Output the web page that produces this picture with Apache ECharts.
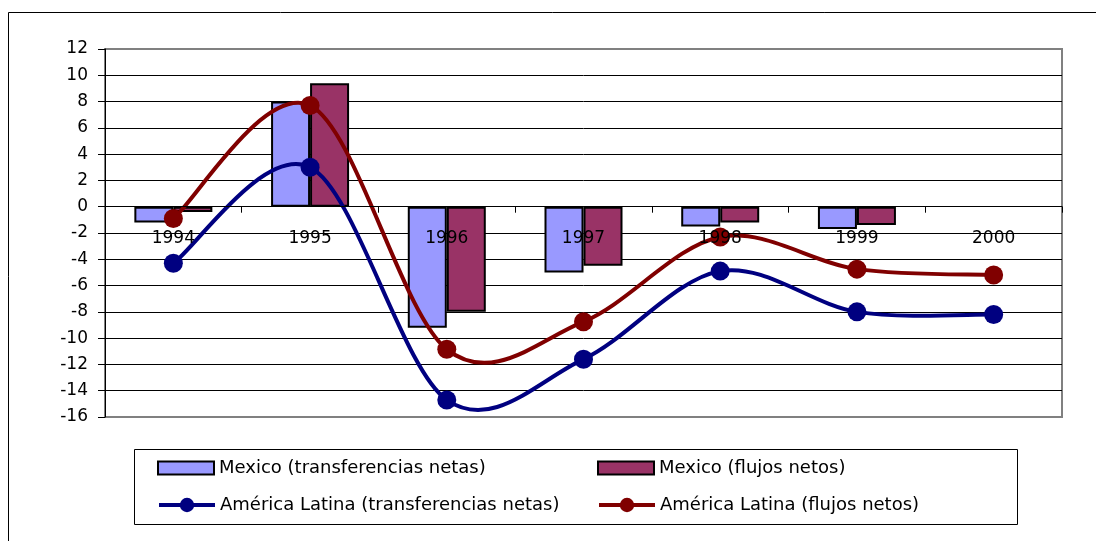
<!DOCTYPE html>
<html>
<head>
<meta charset="utf-8">
<title>Transferencias y flujos netos</title>
<script src="https://cdn.jsdelivr.net/npm/echarts@6/dist/echarts.min.js"></script>
<style>
  html, body { margin: 0; padding: 0; background: #ffffff; }
  #chart { width: 1096px; height: 541px; }
</style>
</head>
<body>
<div id="chart"></div>
<script>
// Years on the category axis
const years = ['1994', '1995', '1996', '1997', '1998', '1999', '2000'];

// Mexico: bars (no bar for 2000)
const mexicoTransferencias = [-1.2, 8.0, -9.2, -5.0, -1.5, -1.7, null];
const mexicoFlujos = [-0.4, 9.4, -8.0, -4.5, -1.2, -1.4, null];

// América Latina: smoothed lines with markers
const alTransferencias = [-4.3, 3.0, -14.7, -11.6, -4.9, -8.0, -8.2];
const alFlujos = [-0.9, 7.7, -10.85, -8.75, -2.3, -4.75, -5.2];

// Value axis range and step
const yMin = -16;
const yMax = 12;
const yStep = 2;

const names = {
  mxT: 'Mexico (transferencias netas)',
  mxF: 'Mexico (flujos netos)',
  alT: 'América Latina (transferencias netas)',
  alF: 'América Latina (flujos netos)'
};

const FONT = 'DejaVu Sans';

const chart = echarts.init(document.getElementById('chart'), null, { renderer: 'canvas' });

function legendAt(name, left, top, isLine) {
  return {
    data: [isLine ? { name: name } : { name: name, icon: 'rect' }],
    left: left,
    top: top,
    padding: 0,
    itemWidth: 56,
    itemHeight: isLine ? 18 : 13,
    selectedMode: false,
    lineStyle: { width: 4, opacity: 1 },
    textStyle: { fontFamily: FONT, fontSize: 18, color: '#000000' }
  };
}

// Catmull-Rom style smoothing (tangent = (next - prev) / 6) in pixel space,
// with the end points repeated at both ends of the curve.
function smoothPath(values, api) {
  const pts = values.map(function (v, i) { return api.coord([i, v]); });
  let d = 'M' + pts[0][0] + ' ' + pts[0][1];
  for (let i = 0; i < pts.length - 1; i++) {
    const p0 = pts[Math.max(i - 1, 0)];
    const p1 = pts[i];
    const p2 = pts[i + 1];
    const p3 = pts[Math.min(i + 2, pts.length - 1)];
    const c1x = p1[0] + (p2[0] - p0[0]) / 6;
    const c1y = p1[1] + (p2[1] - p0[1]) / 6;
    const c2x = p2[0] - (p3[0] - p1[0]) / 6;
    const c2y = p2[1] - (p3[1] - p1[1]) / 6;
    d += ' C' + c1x + ' ' + c1y + ' ' + c2x + ' ' + c2y + ' ' + p2[0] + ' ' + p2[1];
  }
  return d;
}

function curveSeries(name, values, color) {
  return {
    name: name,
    type: 'custom',
    coordinateSystem: 'cartesian2d',
    silent: true,
    z: 3,
    data: values.map(function (v, i) { return [i, v]; }),
    renderItem: function (params, api) {
      if (params.dataIndex !== 0) return null;
      return {
        type: 'path',
        shape: { pathData: smoothPath(values, api) },
        style: { fill: 'none', stroke: color, lineWidth: 4, lineJoin: 'round', lineCap: 'round' }
      };
    }
  };
}

function markerSeries(name, values, color) {
  return {
    name: name,
    type: 'line',
    data: values,
    symbol: 'circle',
    symbolSize: 19,
    lineStyle: { color: color, width: 4, opacity: 0 },
    itemStyle: { color: color },
    z: 4
  };
}

const gridBottomPx = 417;
const zeroPx = 206.7;

const option = {
  backgroundColor: '#ffffff',
  animation: false,
  grid: {
    left: 105,
    right: 34,
    top: 49,
    bottom: 541 - gridBottomPx,
    show: true,
    backgroundColor: '#ffffff',
    borderColor: '#808080',
    borderWidth: 2
  },
  legend: [
    legendAt(names.mxT, 157, 459, false),
    legendAt(names.mxF, 597, 459, false),
    legendAt(names.alT, 157, 496, true),
    legendAt(names.alF, 597, 496, true)
  ],
  xAxis: {
    type: 'category',
    data: years,
    boundaryGap: true,
    zlevel: 1,
    // category axis sits on the zero line
    offset: -(gridBottomPx - zeroPx),
    axisLine: { show: true, onZero: false, lineStyle: { color: '#000000', width: 1 } },
    axisTick: { show: true, length: 6, inside: false, lineStyle: { color: '#000000', width: 1 } },
    axisLabel: { margin: 23, fontFamily: FONT, fontSize: 17, color: '#000000', interval: 0 },
    splitLine: { show: false }
  },
  yAxis: {
    type: 'value',
    min: yMin,
    max: yMax,
    interval: yStep,
    axisLine: { show: true, lineStyle: { color: '#000000', width: 1 } },
    axisTick: { show: true, length: 7, lineStyle: { color: '#000000', width: 1 } },
    axisLabel: { margin: 17, fontFamily: FONT, fontSize: 17, color: '#000000' },
    splitLine: {
      show: true,
      showMinLine: false,
      showMaxLine: false,
      lineStyle: { color: '#000000', width: 1 }
    }
  },
  graphic: [
    // outer frame (left and top edges)
    { type: 'line', shape: { x1: 8.5, y1: 12.5, x2: 1096, y2: 12.5 }, style: { stroke: '#000000', lineWidth: 1 }, z: 1 },
    { type: 'line', shape: { x1: 8.5, y1: 12.5, x2: 8.5, y2: 541 }, style: { stroke: '#000000', lineWidth: 1 }, z: 1 },
    // legend frame
    { type: 'rect', shape: { x: 134.5, y: 449.5, width: 883, height: 75 }, style: { fill: '#ffffff', stroke: '#000000', lineWidth: 1 }, z: 0 }
  ],
  series: [
    {
      name: names.mxT,
      type: 'bar',
      data: mexicoTransferencias,
      barWidth: 39,
      barGap: '0%',
      itemStyle: { color: '#9999ff', borderColor: '#000000', borderWidth: 2 },
      z: 2
    },
    {
      name: names.mxF,
      type: 'bar',
      data: mexicoFlujos,
      barWidth: 39,
      barGap: '0%',
      itemStyle: { color: '#993366', borderColor: '#000000', borderWidth: 2 },
      z: 2
    },
    markerSeries(names.alT, alTransferencias, '#000080'),
    markerSeries(names.alF, alFlujos, '#800000'),
    curveSeries(names.alT, alTransferencias, '#000080'),
    curveSeries(names.alF, alFlujos, '#800000')
  ]
};

chart.setOption(option);
</script>
</body>
</html>
